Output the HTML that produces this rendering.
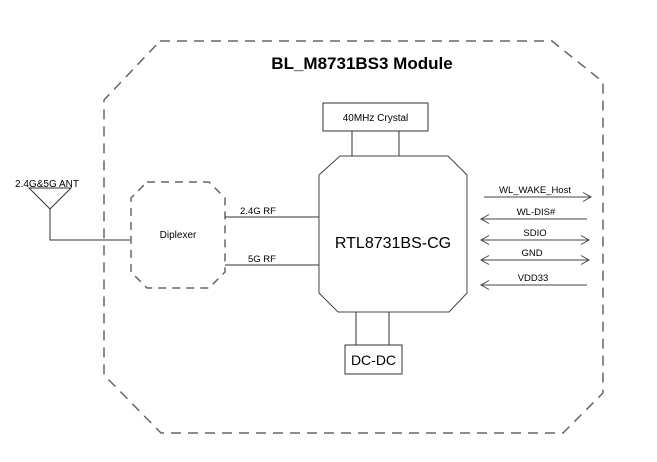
<!DOCTYPE html>
<html><head><style>
html,body{margin:0;padding:0;background:#fff}
svg{display:block}
text{font-family:"Liberation Sans",sans-serif;fill:#000}
</style></head><body>
<svg width="657" height="462" viewBox="0 0 657 462" xmlns="http://www.w3.org/2000/svg">
<defs>
<marker id="ah" markerWidth="10" markerHeight="10" refX="9" refY="5" orient="auto-start-reverse" markerUnits="userSpaceOnUse">
<path d="M1,0.5 L9,5 L1,9.5" fill="none" stroke="#444" stroke-width="1"/>
</marker>
</defs>
<!-- outer module -->
<polygon points="160,41 552,41 603,82 603,393 563,433 161,433 104,375 104,100" fill="none" stroke="#666" stroke-width="1.5" stroke-dasharray="10,7"/>
<text x="362" y="69" font-size="17" font-weight="bold" text-anchor="middle">BL_M8731BS3 Module</text>

<!-- crystal -->
<rect x="323" y="103" width="105" height="28" fill="#fff" stroke="#333" stroke-width="1"/>
<text x="375.5" y="121" font-size="10" text-anchor="middle">40MHz Crystal</text>
<line x1="352" y1="131" x2="352" y2="156" stroke="#333"/>
<line x1="399" y1="131" x2="399" y2="156" stroke="#333"/>

<!-- chip -->
<polygon points="340,156 448,156 467,175 467,293 449,312 338,312 319,293 319,175" fill="#fff" stroke="#444" stroke-width="1"/>
<text x="393" y="248" font-size="16" text-anchor="middle">RTL8731BS-CG</text>

<!-- DC-DC -->
<line x1="356" y1="312" x2="356" y2="345" stroke="#333"/>
<line x1="389" y1="312" x2="389" y2="345" stroke="#333"/>
<rect x="345" y="345" width="57" height="29" fill="#fff" stroke="#333"/>
<text x="373.5" y="365" font-size="14" text-anchor="middle">DC-DC</text>

<!-- antenna -->
<text x="47" y="187" font-size="10" text-anchor="middle">2.4G&amp;5G ANT</text>
<polygon points="29,188 71,188 50,209" fill="none" stroke="#333"/>
<polyline points="50,209 50,240 130,240" fill="none" stroke="#333"/>

<!-- diplexer -->
<polygon points="147,182 209,182 225,198 225,272 209,288 147,288 131,272 131,198" fill="none" stroke="#666" stroke-width="1.5" stroke-dasharray="8,6"/>
<text x="178" y="238" font-size="10" text-anchor="middle">Diplexer</text>
<line x1="225" y1="217" x2="319" y2="217" stroke="#333"/>
<text x="258" y="214" font-size="9.5" text-anchor="middle">2.4G RF</text>
<line x1="225" y1="265" x2="319" y2="265" stroke="#333"/>
<text x="262" y="262" font-size="9.5" text-anchor="middle">5G RF</text>

<!-- right signals -->
<line x1="484" y1="197" x2="591" y2="197" stroke="#444" marker-end="url(#ah)"/>
<text x="535" y="193" font-size="9.5" text-anchor="middle">WL_WAKE_Host</text>
<line x1="587" y1="219" x2="481" y2="219" stroke="#444" marker-end="url(#ah)"/>
<text x="536" y="215" font-size="9.5" text-anchor="middle">WL-DIS#</text>
<line x1="481" y1="240" x2="589" y2="240" stroke="#444" marker-start="url(#ah)" marker-end="url(#ah)"/>
<text x="535" y="236" font-size="9.5" text-anchor="middle">SDIO</text>
<line x1="481" y1="260" x2="589" y2="260" stroke="#444" marker-start="url(#ah)" marker-end="url(#ah)"/>
<text x="532" y="256" font-size="9.5" text-anchor="middle">GND</text>
<line x1="587" y1="285" x2="481" y2="285" stroke="#444" marker-end="url(#ah)"/>
<text x="533" y="281" font-size="9.5" text-anchor="middle">VDD33</text>
</svg>
</body></html>
